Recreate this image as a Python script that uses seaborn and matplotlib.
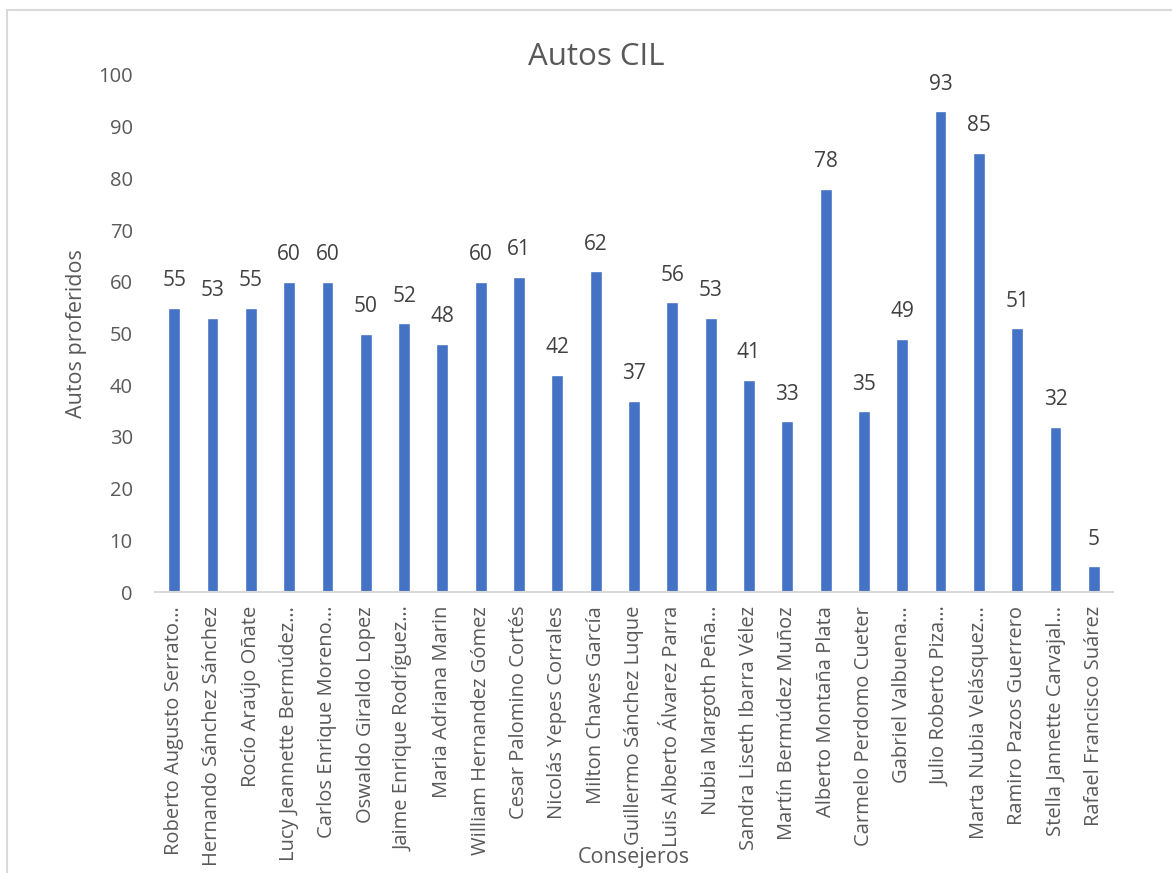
import matplotlib
matplotlib.use("Agg")
import matplotlib.pyplot as plt
import seaborn as sns
import pandas as pd
from matplotlib.patches import Rectangle

# datos
consejeros = [
    "Roberto Augusto Serrato…", "Hernando Sánchez Sánchez", "Rocío Araújo Oñate",
    "Lucy Jeannette Bermúdez…", "Carlos Enrique Moreno…", "Oswaldo Giraldo Lopez",
    "Jaime Enrique Rodríguez…", "Maria Adriana Marin", "William Hernandez Gómez",
    "Cesar Palomino Cortés", "Nicolás Yepes Corrales", "Milton Chaves García",
    "Guillermo Sánchez Luque", "Luis Alberto Álvarez Parra", "Nubia Margoth Peña…",
    "Sandra Liseth Ibarra Vélez", "Martín Bermúdez Muñoz", "Alberto Montaña Plata",
    "Carmelo Perdomo Cueter", "Gabriel Valbuena…", "Julio Roberto Piza…",
    "Marta Nubia Velásquez…", "Ramiro Pazos Guerrero", "Stella Jannette Carvajal…",
    "Rafael Francisco Suárez",
]
autos = [55, 53, 55, 60, 60, 50, 52, 48, 60, 61, 42, 62, 37, 56, 53,
         41, 33, 78, 35, 49, 93, 85, 51, 32, 5]

df = pd.DataFrame({"Consejeros": consejeros, "Autos": autos})

sns.set_style("white")
plt.rcParams['font.family'] = ['Open Sans', 'DejaVu Sans']
gris = "#595959"

fig = plt.figure(figsize=(11.72, 8.73), dpi=100)
ax = fig.add_axes([155/1172, 1-592/873, (1113-155)/1172, (592-75)/873])

sns.barplot(data=df, x="Consejeros", y="Autos", color="#4472C4", width=0.31,
            saturation=1, ax=ax)

for i, v in enumerate(autos):
    ax.text(i, v + 3.2, str(v), ha="center", va="bottom", fontsize=15, color="#404040")

ax.set_ylim(0, 100)
ax.set_yticks(range(0, 101, 10))
ax.tick_params(axis="y", labelsize=14.5, labelcolor=gris, length=0, pad=16)
ax.tick_params(axis="x", labelsize=14.5, labelcolor=gris, length=0, pad=10)
plt.setp(ax.get_xticklabels(), rotation=90)
for s in ["top", "right", "left"]:
    ax.spines[s].set_visible(False)
ax.spines["bottom"].set_color("#d9d9d9")
ax.spines["bottom"].set_linewidth(1.5)

ax.set_xlabel("")
ax.set_ylabel("Autos proferidos", fontsize=15.5, color=gris, labelpad=8)
fig.text(634/1172, 1-858/873, "Consejeros", ha="center", va="center",
         fontsize=15.5, color=gris)
fig.text(596/1172, 1-57/873, "Autos CIL", ha="center", va="center",
         fontsize=22.5, color=gris)

# marco del grafico
fig.patches.append(Rectangle((7/1172, -0.1), 1.2, 1-10/873+0.1, transform=fig.transFigure,
                             fill=False, edgecolor="#d9d9d9", linewidth=1.5))

fig.savefig("out.png", dpi=100)
